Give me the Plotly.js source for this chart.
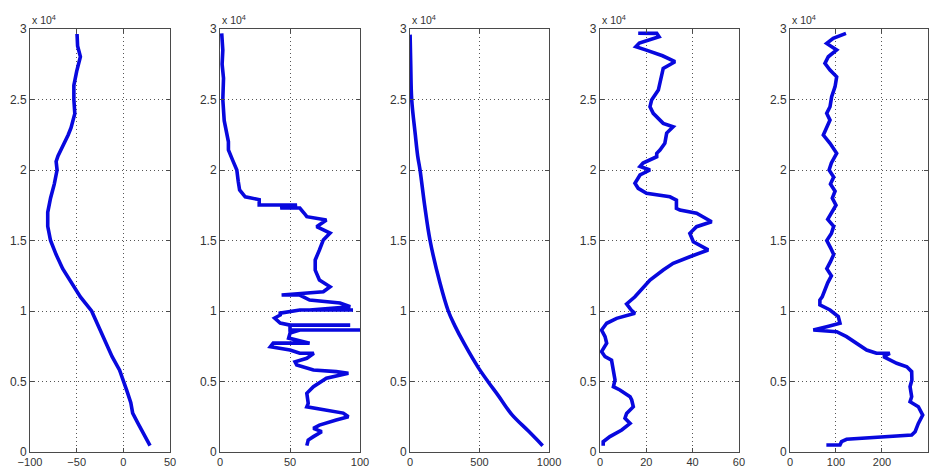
<!DOCTYPE html>
<html>
<head>
<meta charset="utf-8">
<script src="https://cdn.plot.ly/plotly-3.0.1.min.js"></script>
<style>html,body{margin:0;padding:0;background:#fff;}#chart{width:931px;height:468px;}</style>
</head>
<body>
<div id="chart"></div>
<script>
// Panel 1
const depth1 = [450, 1200, 2000, 2760, 3500, 4300, 5000, 5800, 6760, 7500, 8500, 9300, 10000, 11000, 12000, 13000, 14000, 15000, 16000, 17000, 18000, 19000, 20000, 20600, 21000, 22000, 22500, 23000, 24000, 25000, 26000, 27000, 28030, 28800, 29645];
const val1   = [28.6, 22, 16, 10, 8, 4, 0, -4, -12, -17, -24, -29, -34, -46, -56, -65, -72, -78, -81, -81, -78, -74, -71, -72, -70, -62, -59, -56, -52, -53, -53, -50, -46, -49, -49.6];
// Panel 2
const depth2 = [450, 850, 1090, 1440, 1680, 1910, 2270, 2500, 2760, 2980, 3210, 3450, 4160, 4630, 5230, 5580, 5700, 5810, 6170, 6400, 6650, 7000, 7000, 7230, 7470, 7720, 7720, 8080, 8430, 8650, 8650, 8650, 9000, 9000, 9000, 9150, 9500, 9720, 9850, 10070, 10070, 10070, 10300, 10570, 10780, 11130, 11130, 11370, 11720, 12200, 12900, 13620, 14330, 15040, 15530, 15980, 16450, 16690, 16950, 17300, 17300, 17520, 17520, 17900, 18100, 18580, 19200, 20000, 20700, 21420, 22000, 22500, 23500, 25000, 26500, 27500, 28500, 29690];
const val2   = [62, 63, 66.7, 72.6, 66.7, 71, 83, 91.7, 88, 73.8, 62, 63, 62, 66.7, 76, 91.7, 83, 66.7, 54.8, 53.6, 62, 67, 57, 50, 36, 38, 64, 49, 50, 57, 100, 50, 50, 93, 50, 43, 39, 43, 43, 57, 95, 64, 93, 85.7, 64, 57, 44, 73.8, 78.6, 71, 68, 68, 71, 73.8, 78.6, 69, 76, 62, 60, 57, 43, 55, 28, 28, 18, 14, 13, 12, 9, 6, 6, 4.8, 3, 2, 2.5, 1.5, 2, 1.2];
// Panel 3
const depth3 = [450, 1500, 2670, 4000, 5000, 6000, 7590, 9000, 10000, 12000, 15000, 17500, 20000, 21000, 22500, 25000, 27500, 29600];
const val3   = [954, 850, 731, 635, 560, 490, 395, 320, 275, 215, 144, 105, 72, 55, 38, 12, 5, 0.5];
// Panel 4
const depth4 = [450, 730, 1090, 1560, 2030, 2390, 2740, 3210, 3690, 3920, 4400, 4630, 5110, 5820, 6520, 6760, 7120, 7710, 8180, 8650, 9130, 9480, 9840, 10070, 10500, 11010, 11720, 12200, 12910, 13380, 13850, 14330, 14910, 15510, 15980, 16330, 16930, 17160, 17280, 17870, 18100, 18350, 18700, 19060, 19650, 20000, 20250, 20490, 20940, 21180, 21420, 21890, 22620, 23070, 23310, 24020, 24490, 24960, 25670, 26620, 27210, 27680, 28100, 28500, 28750, 29000, 29450, 29690, 29700];
const val4   = [1.4, 1.4, 4.3, 9.4, 13, 10.8, 11.5, 14.4, 13.7, 13, 8.6, 5.8, 6.5, 5.8, 5.0, 2.2, 0.7, 2.9, 2.2, 0.7, 2.9, 7.2, 15.1, 13.5, 11.5, 15.1, 18.7, 21.6, 27.3, 31.6, 38.8, 46.7, 40.3, 38.8, 41.7, 48.2, 41.7, 34.5, 33, 33, 30.2, 20.1, 16.5, 15.1, 17.3, 21.6, 17.3, 18.6, 24.5, 24.5, 25.9, 28, 28.8, 31.6, 27.3, 23, 21.6, 22.3, 25.2, 26.6, 27.3, 32.4, 27, 20, 15.5, 17, 25.5, 24.5, 16.5];
// Panel 5
const depth5 = [380, 500, 500, 730, 900, 1040, 1200, 1440, 2030, 2620, 3210, 3570, 3920, 4630, 5110, 5700, 6050, 6290, 6760, 7000, 7000, 7230, 7710, 8180, 8530, 8650, 8890, 9130, 9600, 10070, 10430, 10780, 11000, 11500, 12000, 12500, 13000, 13500, 14000, 14500, 15000, 15500, 16000, 16500, 17000, 17500, 18000, 18500, 19000, 19500, 20000, 20500, 21180, 21890, 22480, 23070, 23540, 24020, 24490, 25200, 25910, 26610, 27090, 27560, 28030, 28510, 28980, 29340, 29690];
const val5   = [83, 83, 108.7, 112, 123, 195.6, 264.5, 272, 279, 288.5, 279, 261, 264.5, 261, 265, 264.5, 254, 232, 203, 217, 188, 166.7, 145, 123, 101.5, 50.7, 79.8, 108.7, 105, 87, 65, 65, 70, 75, 82, 90, 80, 88, 95, 88, 80, 90, 95, 82, 90, 100, 92, 98, 88, 95, 85, 90, 101.5, 87, 72.5, 79.8, 87, 79.8, 87, 90.6, 98, 101.5, 87, 76, 83.3, 101.5, 79.8, 94, 121.7];

const xRanges = [[-100, 50], [0, 100], [0, 1000], [0, 60], [0, 300]];
const xTicks = [[-100, -50, 0, 50], [0, 50, 100], [0, 500, 1000], [0, 20, 40, 60], [0, 100, 200, 300]];
const yTickVals = [0, 5000, 10000, 15000, 20000, 25000, 30000];
const yTickText = ['0', '0.5', '1', '1.5', '2', '2.5', '3'];
const exponentLabel = 'x 10<sup>4</sup>';

const series = [[val1, depth1], [val2, depth2], [val3, depth3], [val4, depth4], [val5, depth5]];
const domains = [[0, 0.1559], [0.2116, 0.3675], [0.4232, 0.5780], [0.6347, 0.7895], [0.8463, 1]];

const lineColor = 'rgb(8,8,222)';
const axisColor = '#4a4a4a';
const fontFam = 'Liberation Sans, Arial, sans-serif';

const data = [];
const layout = {
  width: 931, height: 468,
  margin: {l: 30, r: 3, t: 29, b: 16},
  paper_bgcolor: '#fff', plot_bgcolor: '#fff',
  showlegend: false,
  font: {family: fontFam, size: 12, color: '#333'},
  annotations: []
};
series.forEach((s, i) => {
  const n = i === 0 ? '' : String(i + 1);
  data.push({
    x: s[0], y: s[1], type: 'scatter', mode: 'lines',
    xaxis: 'x' + n, yaxis: 'y' + n,
    line: {color: lineColor, width: 3.6, shape: i === 2 ? 'spline' : 'linear'},
    hoverinfo: 'skip'
  });
  const common = {
    showline: true, mirror: 'ticks', linecolor: axisColor, linewidth: 1,
    ticks: 'inside', ticklen: 4, tickcolor: axisColor, tickwidth: 1,
    showgrid: true, gridcolor: '#555', griddash: '1px,3px', gridwidth: 1,
    zeroline: false
  };
  layout['xaxis' + n] = Object.assign({}, common, {
    domain: domains[i], range: xRanges[i], tickmode: 'array', tickvals: xTicks[i],
    anchor: 'y' + n, tickfont: {family: fontFam, size: 11, color: '#333'}
  });
  layout['yaxis' + n] = Object.assign({}, common, {
    domain: [0, 1], range: [0, 30000], tickmode: 'array', tickvals: yTickVals, ticktext: yTickText,
    anchor: 'x' + n, tickfont: {family: fontFam, size: 12, color: '#333'}
  });
  layout.annotations.push({
    xref: 'x' + n + ' domain', yref: 'y' + n + ' domain', x: 0, y: 1,
    xanchor: 'left', yanchor: 'bottom', yshift: 1, showarrow: false,
    text: exponentLabel, font: {family: fontFam, size: 10.5, color: '#333'}
  });
});
Plotly.newPlot('chart', data, layout, {displayModeBar: false, staticPlot: true});
</script>
</body>
</html>
